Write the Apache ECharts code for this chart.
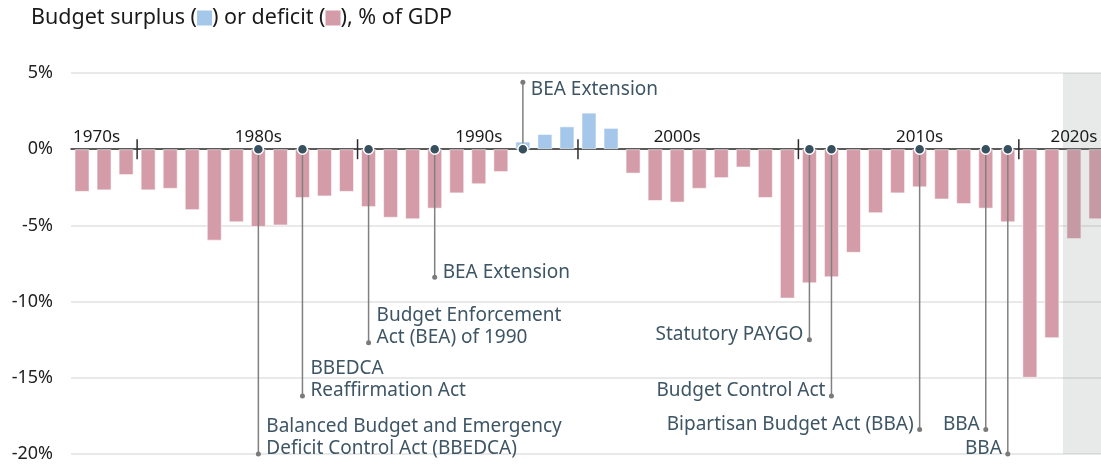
<!DOCTYPE html>
<html>
<head>
    <meta charset="UTF-8">
    <title>Budget surplus or deficit</title>
    <style type="text/css">
        html, body { margin: 0; padding: 0; background: #fff; }
        #mychart { width: 1101px; height: 464px; }
    </style>
</head>
<body>
<div id="mychart"></div>
<script src="https://cdn.jsdelivr.net/npm/echarts@6/dist/echarts.min.js"></script>
<script>
    // fiscal years shown and the surplus (+) / deficit (-) as % of GDP
    var years = ['1977', '1978', '1979', '1980', '1981', '1982', '1983', '1984', '1985', '1986',
        '1987', '1988', '1989', '1990', '1991', '1992', '1993', '1994', '1995', '1996',
        '1997', '1998', '1999', '2000', '2001', '2002', '2003', '2004', '2005', '2006',
        '2007', '2008', '2009', '2010', '2011', '2012', '2013', '2014', '2015', '2016',
        '2017', '2018', '2019', '2020', '2021', '2022', '2023'];
    var balance = [-2.8, -2.7, -1.7, -2.7, -2.6, -4.0, -6.0, -4.8, -5.1, -5.0,
        -3.2, -3.1, -2.8, -3.8, -4.5, -4.6, -3.9, -2.9, -2.3, -1.5,
        0.5, 1.0, 1.5, 2.4, 1.4, -1.6, -3.4, -3.5, -2.6, -1.9,
        -1.2, -3.2, -9.8, -8.8, -8.4, -6.8, -4.2, -2.9, -2.5, -3.3,
        -3.6, -3.9, -4.8, -15.0, -12.4, -5.9, -4.6];

    var yTicks = [-20, -15, -10, -5, 0, 5];

    var decades = ['1970s', '1980s', '1990s', '2000s', '2010s', '2020s'];
    var decadeStarts = ['1980', '1990', '2000', '2010', '2020'];

    // budget rules: year passed, where the leader line ends (% of GDP), label
    var actYears = ['1985', '1987', '1990', '1993', '1997', '2010', '2011', '2015', '2018', '2019'];
    var actEnds = [-20.0, -16.2, -12.7, -8.4, 4.4, -12.5, -16.2, -18.4, -18.4, -20.0];
    var actNames = [
        'Balanced Budget and Emergency\nDeficit Control Act (BBEDCA)',
        'BBEDCA\nReaffirmation Act',
        'Budget Enforcement\nAct (BEA) of 1990',
        'BEA Extension',
        'BEA Extension',
        'Statutory PAYGO',
        'Budget Control Act',
        'Bipartisan Budget Act (BBA)',
        'BBA',
        'BBA'
    ];
    var shadedFrom = '2022';

    var FONT = '"Noto Sans", "Open Sans", sans-serif';
    var PINK = '#d49ba8', BLUE = '#a5c7e9';

    // where the decade names sit (category index, can be fractional)
    var decadeAnchor = [-0.4, 8.2, 17.9, 27.2, 38.2, 44.7];

    var mychart = echarts.init(document.getElementById('mychart'));

    var option = {
        backgroundColor: '#fff',
        animation: false,
        title: {
            left: 26,
            top: 2,
            text: 'Budget surplus ({b|}) or deficit ({r|}), % of GDP',
            textStyle: {
                fontFamily: FONT,
                fontSize: 21.5,
                fontWeight: 'normal',
                color: '#1a1a1a',
                rich: {
                    b: { width: 15, height: 15, backgroundColor: BLUE },
                    r: { width: 15, height: 15, backgroundColor: PINK }
                }
            }
        },
        grid: { left: 71, top: 73, width: 1036, height: 381, outerBoundsMode: 'none' },
        xAxis: {
            type: 'category',
            data: years,
            axisLine: { onZero: true, lineStyle: { color: '#2b2b2b', width: 1.5 } },
            axisTick: { show: false },
            axisLabel: { show: false },
            splitLine: { show: false }
        },
        yAxis: {
            type: 'value',
            min: yTicks[0],
            max: yTicks[yTicks.length - 1],
            interval: 5,
            axisLine: { show: false },
            axisTick: { show: false },
            axisLabel: {
                formatter: '{value}%',
                fontFamily: FONT,
                fontSize: 18,
                color: '#222',
                margin: 18
            },
            splitLine: { lineStyle: { color: '#e2e2e2', width: 1.5 } }
        },
        series: [
            {
                type: 'bar',
                data: balance,
                barWidth: 15,
                z: 2,
                itemStyle: {
                    color: function (p) { return p.value >= 0 ? BLUE : PINK; },
                    borderColor: 'rgba(255,255,255,0.55)',
                    borderWidth: 1
                }
            },
            {
                // projection band
                type: 'custom',
                z: 3,
                silent: true,
                data: [[years.indexOf(shadedFrom), 0]],
                renderItem: function (params, api) {
                    var cs = params.coordSys;
                    var bw = api.size([1, 0])[0];
                    var x = api.coord([api.value(0), 0])[0] - bw / 2;
                    return {
                        type: 'rect',
                        shape: { x: x, y: cs.y, width: cs.x + cs.width - x, height: cs.height },
                        style: { fill: 'rgba(140,150,150,0.2)' }
                    };
                }
            },
            {
                // decade ticks and names on the zero line
                type: 'custom',
                z: 4,
                silent: true,
                data: decades.map(function (d, i) { return [decadeAnchor[i], 0]; }),
                renderItem: function (params, api) {
                    var i = params.dataIndex;
                    var p = api.coord([api.value(0), 0]);
                    var bw = api.size([1, 0])[0];
                    var children = [{
                        type: 'text',
                        x: i === 0 ? params.coordSys.x + 2 : p[0],
                        y: p[1] - 12,
                        style: {
                            text: decades[i],
                            align: i === 0 ? 'left' : 'center',
                            verticalAlign: 'middle',
                            fontFamily: FONT,
                            fontSize: 17,
                            fill: '#1a1a1a'
                        }
                    }];
                    if (i < decadeStarts.length) {
                        var t = api.coord([years.indexOf(decadeStarts[i]), 0]);
                        var tx = t[0] - bw / 2;
                        children.push({
                            type: 'line',
                            shape: { x1: tx, y1: t[1] - 10, x2: tx, y2: t[1] + 10 },
                            style: { stroke: '#2b2b2b', lineWidth: 1.5 }
                        });
                    }
                    return { type: 'group', children: children };
                }
            },
            {
                // budget rule annotations
                type: 'custom',
                z: 5,
                silent: true,
                data: actYears.map(function (y, i) { return [years.indexOf(y), actEnds[i]]; }),
                renderItem: function (params, api) {
                    var i = params.dataIndex;
                    var p0 = api.coord([api.value(0), 0]);
                    var p1 = api.coord([api.value(0), api.value(1)]);
                    var toLeft = +actYears[i] >= 2000;
                    var up = actEnds[i] > 0;
                    return {
                        type: 'group',
                        children: [
                            {
                                type: 'line',
                                shape: { x1: p0[0], y1: p0[1], x2: p1[0], y2: p1[1] },
                                style: { stroke: '#808080', lineWidth: 1.5 }
                            },
                            {
                                type: 'circle',
                                shape: { cx: p1[0], cy: p1[1], r: 2.5 },
                                style: { fill: '#7a7a7a' }
                            },
                            {
                                type: 'circle',
                                shape: { cx: p0[0], cy: p0[1], r: 5 },
                                style: { fill: '#37505f', stroke: '#fff', lineWidth: 1.5 }
                            },
                            {
                                type: 'text',
                                x: p1[0] + (toLeft ? -6 : 8),
                                y: p1[1] + (up ? 18 : 6),
                                style: {
                                    text: actNames[i],
                                    align: toLeft ? 'right' : 'left',
                                    verticalAlign: 'bottom',
                                    fontFamily: FONT,
                                    fontSize: 19,
                                    lineHeight: 22,
                                    fill: '#3d5564'
                                }
                            }
                        ]
                    };
                }
            }
        ]
    };

    mychart.setOption(option);
</script>
</body>
</html>
